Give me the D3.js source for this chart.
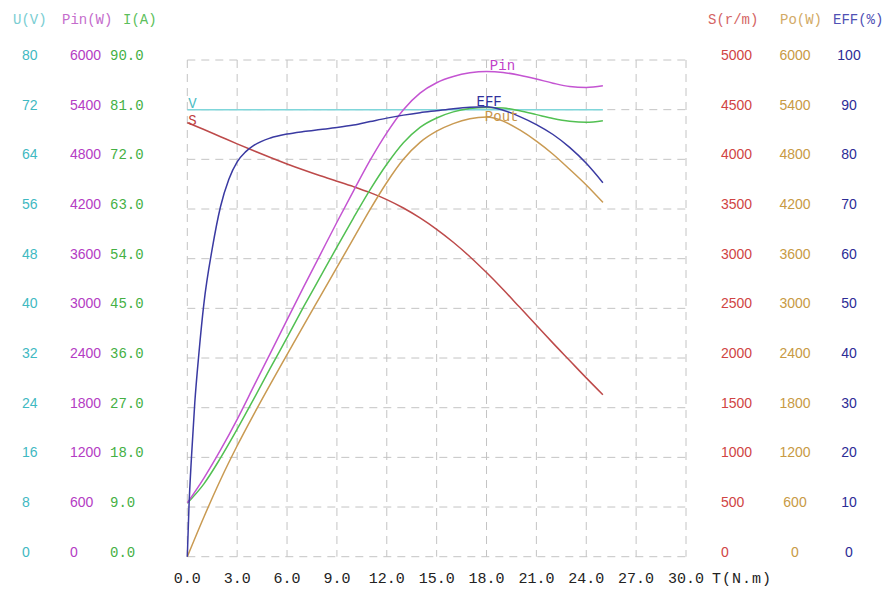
<!DOCTYPE html>
<html>
<head>
<meta charset="utf-8">
<script src="https://cdn.jsdelivr.net/npm/d3@7"></script>
<style>
  body { margin: 0; background: #fff; }
  text { font-family: 'Liberation Mono', monospace; }
  .num { font-family: 'Liberation Sans', Arial, sans-serif; }
</style>
</head>
<body>
<div id="chart"></div>
<script>
// torque points (N.m)
const torque = [0, 1, 2, 3, 4, 5, 6, 7, 8, 9, 10, 11, 12, 13, 14, 15, 16, 17, 18, 19, 20, 21, 22, 23, 24, 25]
const voltage = torque.map(() => 72)
const pin = [650, 950, 1290, 1660, 2060, 2460, 2860, 3260, 3650, 4040, 4420, 4790, 5120, 5400, 5600, 5725, 5800, 5845, 5862, 5850, 5815, 5770, 5720, 5680, 5668, 5688]
const current = [9.7, 13.2, 17.9, 23.1, 28.6, 34.2, 39.7, 45.3, 50.7, 56.1, 61.4, 66.5, 71.1, 75.0, 77.8, 79.5, 80.6, 81.2, 81.4, 81.3, 80.8, 80.1, 79.4, 78.9, 78.7, 79.0]
const speed = [4370, 4300, 4228, 4156, 4086, 4018, 3953, 3892, 3834, 3780, 3725, 3665, 3595, 3510, 3410, 3295, 3165, 3020, 2860, 2690, 2510, 2330, 2150, 1975, 1800, 1630]
const pout = [0, 480, 930, 1340, 1720, 2085, 2440, 2795, 3145, 3495, 3845, 4195, 4520, 4800, 5005, 5140, 5232, 5290, 5310, 5262, 5155, 5020, 4862, 4680, 4490, 4280]

// efficiency has its own torque points (steep start)
const effTorque = [0, 0.1, 0.25, 0.45, 0.7, 1.0, 1.5, 2.0, 2.5, 3.0, 3.5, 4, 5, 6, 7, 8, 9, 10, 11, 12, 13, 14, 15, 16, 17, 18, 19, 20, 21, 22, 23, 24, 25]
const eff = [0, 10, 20, 31, 41, 51, 62, 70.5, 76, 79.5, 81.5, 82.8, 84.3, 85.1, 85.6, 86.0, 86.4, 86.9, 87.6, 88.3, 88.9, 89.4, 89.8, 90.2, 90.5, 90.6, 89.9, 88.6, 87.0, 85.0, 82.4, 79.2, 75.3]

// axis ticks
const xTicks = d3.range(0, 31, 3)
const uTicks = d3.range(0, 81, 8)
const pinTicks = d3.range(0, 6001, 600)
const iTicks = d3.range(0, 91, 9)
const sTicks = d3.range(0, 5001, 500)
const poTicks = d3.range(0, 6001, 600)
const effTicks = d3.range(0, 101, 10)

const width = 888
const height = 590
const plotLeft = 187.3
const plotRight = 686
const plotTop = 60
const plotBottom = 556.7

const svg = d3
  .select('#chart')
  .append('svg')
  .attr('width', width)
  .attr('height', height)

const xScale = d3.scaleLinear().domain([0, 30]).range([plotLeft, plotRight])
const yU = d3.scaleLinear().domain([0, 80]).range([plotBottom, plotTop])
const yPin = d3.scaleLinear().domain([0, 6000]).range([plotBottom, plotTop])
const yI = d3.scaleLinear().domain([0, 90]).range([plotBottom, plotTop])
const yS = d3.scaleLinear().domain([0, 5000]).range([plotBottom, plotTop])
const yPo = d3.scaleLinear().domain([0, 6000]).range([plotBottom, plotTop])
const yEff = d3.scaleLinear().domain([0, 100]).range([plotBottom, plotTop])

// dashed grid
const grid = svg.append('g').attr('stroke', '#c4c4c4').attr('stroke-dasharray', '8,6')
grid
  .selectAll('.vline')
  .data(xTicks)
  .enter()
  .append('line')
  .attr('x1', d => xScale(d))
  .attr('x2', d => xScale(d))
  .attr('y1', plotTop)
  .attr('y2', plotBottom)
grid
  .selectAll('.hline')
  .data(uTicks)
  .enter()
  .append('line')
  .attr('x1', plotLeft)
  .attr('x2', plotRight)
  .attr('y1', d => yU(d))
  .attr('y2', d => yU(d))

// axis columns: header, ticks, scale, colors, position
const columns = [
  { title: 'U(V)', tx: 13, ticks: uTicks, scale: yU, fmt: d3.format('d'), x: 22, anchor: 'start', cls: 'num', color: '#3fb9c2', head: '#79cdd2' },
  { title: 'Pin(W)', tx: 62, ticks: pinTicks, scale: yPin, fmt: d3.format('d'), x: 70, anchor: 'start', cls: 'num', color: '#b43cc4', head: '#c46ccc' },
  { title: 'I(A)', tx: 123, ticks: iTicks, scale: yI, fmt: d3.format('.1f'), x: 110, anchor: 'start', cls: '', color: '#44b044', head: '#5cbf5c' },
  { title: 'S(r/m)', tx: 708, ticks: sTicks, scale: yS, fmt: d3.format('d'), x: 721, anchor: 'start', cls: 'num', color: '#d04444', head: '#d46464' },
  { title: 'Po(W)', tx: 780, ticks: poTicks, scale: yPo, fmt: d3.format('d'), x: 795, anchor: 'middle', cls: 'num', color: '#c89a44', head: '#d2aa66' },
  { title: 'EFF(%)', tx: 833, ticks: effTicks, scale: yEff, fmt: d3.format('d'), x: 849, anchor: 'middle', cls: 'num', color: '#2c2c96', head: '#5050b4' }
]

columns.forEach(c => {
  svg
    .append('text')
    .attr('x', c.tx)
    .attr('y', 24)
    .attr('font-size', 14)
    .attr('fill', c.head)
    .text(c.title)

  svg
    .append('g')
    .selectAll('text')
    .data(c.ticks)
    .enter()
    .append('text')
    .attr('class', c.cls)
    .attr('x', c.x)
    .attr('y', d => c.scale(d))
    .attr('text-anchor', c.anchor)
    .attr('font-size', 14)
    .attr('fill', c.color)
    .text(d => c.fmt(d))
})

// x axis labels
svg
  .append('g')
  .selectAll('text')
  .data(xTicks)
  .enter()
  .append('text')
  .attr('x', d => xScale(d))
  .attr('y', 583)
  .attr('text-anchor', 'middle')
  .attr('font-size', 15)
  .attr('fill', '#222')
  .text(d => d3.format('.1f')(d))

svg
  .append('text')
  .attr('x', 712)
  .attr('y', 583)
  .attr('font-size', 15)
  .attr('letter-spacing', 1)
  .attr('fill', '#222')
  .text('T(N.m)')

// curves
function drawCurve(xs, ys, yScale, color) {
  const line = d3
    .line()
    .x(d => xScale(d[0]))
    .y(d => yScale(d[1]))
    .curve(d3.curveMonotoneX)
  svg
    .append('path')
    .datum(d3.zip(xs, ys))
    .attr('d', line)
    .attr('fill', 'none')
    .attr('stroke', color)
    .attr('stroke-width', 1.5)
}

drawCurve(torque, voltage, yU, '#7fd6da')
drawCurve(torque, speed, yS, '#bd4a4a')
drawCurve(torque, pout, yPo, '#c99a52')
drawCurve(torque, current, yI, '#52c052')
drawCurve(torque, pin, yPin, '#c454d2')
drawCurve(effTorque, eff, yEff, '#3a3aa2')

// curve labels
const curveLabels = [
  { text: 'V', x: xScale(0) + 1, y: yU(72) - 2, color: '#4cbcc4' },
  { text: 'S', x: xScale(0) + 1, y: yS(4370) + 2, color: '#c04040' },
  { text: 'Pin', x: xScale(18.2), y: yPin(5862) - 1, color: '#c040c8' },
  { text: 'EFF', x: xScale(17.4), y: yEff(90.6) - 1, color: '#30309c' },
  { text: 'Pout', x: xScale(17.9), y: yPo(5310) + 4, color: '#c89448' }
]

svg
  .append('g')
  .selectAll('text')
  .data(curveLabels)
  .enter()
  .append('text')
  .attr('x', d => d.x)
  .attr('y', d => d.y)
  .attr('font-size', 14)
  .attr('fill', d => d.color)
  .text(d => d.text)
</script>
</body>
</html>
